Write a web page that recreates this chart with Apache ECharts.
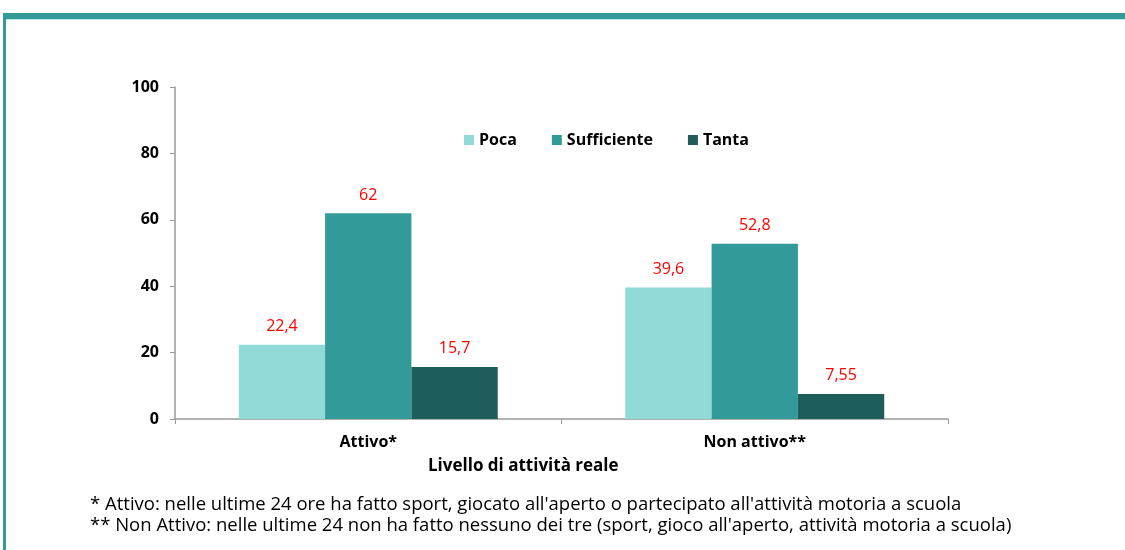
<!DOCTYPE html>
<html>
<head>
<meta charset="utf-8">
<script src="https://cdn.jsdelivr.net/npm/echarts@6/dist/echarts.min.js"></script>
<style>
  html, body { margin: 0; padding: 0; background: #fff; }
  #chart { width: 1125px; height: 550px; }
</style>
</head>
<body>
<div id="chart"></div>
<script>
// dati
var categories = ["Attivo*", "Non attivo**"];
var poca = [22.4, 39.6];
var sufficiente = [62, 52.8];
var tanta = [15.7, 7.55];
var yTicks = [0, 20, 40, 60, 80, 100];
var axisTitle = "Livello di attività reale";
var notes = [
  "* Attivo: nelle ultime 24 ore ha fatto sport, giocato all'aperto o partecipato all'attività motoria a scuola",
  "** Non Attivo: nelle ultime 24 non ha fatto nessuno dei tre (sport, gioco all'aperto, attività motoria a scuola)"
];

var chart = echarts.init(document.getElementById("chart"));

// etichette rosse con la virgola decimale
function lbl(p) {
  return String(p.value).replace(".", ",");
}

function serie(name, data, color) {
  return {
    name: name,
    type: "bar",
    data: data,
    barGap: "0%",
    barCategoryGap: "33%",
    itemStyle: { color: color },
    label: {
      show: true,
      position: "top",
      distance: 10,
      color: "#ff0000",
      fontSize: 16,
      fontFamily: "Open Sans",
      formatter: lbl
    }
  };
}

chart.setOption({
  animation: false,
  textStyle: { fontFamily: "Open Sans" },
  grid: { left: 175, right: 177, top: 87, bottom: 131 },
  legend: {
    top: 127,
    left: 459,
    itemWidth: 10,
    itemHeight: 10,
    itemGap: 35,
    icon: "rect",
    textStyle: { fontSize: 16, fontWeight: "bold", color: "#000" },
    data: ["Poca", "Sufficiente", "Tanta"]
  },
  xAxis: {
    type: "category",
    data: categories,
    axisLine: { lineStyle: { color: "#999", width: 1.5 } },
    axisTick: { show: true, length: 5, lineStyle: { color: "#999" } },
    axisLabel: { fontSize: 16, fontWeight: "bold", color: "#000", margin: 15 }
  },
  yAxis: {
    type: "value",
    min: yTicks[0],
    max: yTicks[yTicks.length - 1],
    interval: 20,
    splitLine: { show: false },
    axisLine: { show: true, lineStyle: { color: "#999", width: 1.5 } },
    axisTick: { show: true, length: 5, lineStyle: { color: "#999" } },
    axisLabel: { fontSize: 16, fontWeight: "bold", color: "#000", margin: 16 }
  },
  series: [
    serie("Poca", poca, "#92dad7"),
    serie("Sufficiente", sufficiente, "#329a98"),
    serie("Tanta", tanta, "#1f5d5b")
  ],
  graphic: [
    // cornice
    { type: "rect", shape: { x: 3, y: 13, width: 1122, height: 6 }, style: { fill: "#339a98" } },
    { type: "rect", shape: { x: 3, y: 13, width: 3, height: 537 }, style: { fill: "#339a98" } },
    { type: "rect", shape: { x: 6, y: 19, width: 1119, height: 1 }, style: { fill: "#bfe6e4" } },
    // titolo asse
    { type: "text", left: 428, top: 458, style: { text: axisTitle, font: "bold 17px 'Open Sans'", fill: "#000" } },
    // note
    { type: "text", left: 90, top: 495, style: { text: notes[0], font: "18.5px 'Open Sans'", fill: "#000" } },
    { type: "text", left: 90, top: 516, style: { text: notes[1], font: "18.5px 'Open Sans'", fill: "#000" } }
  ]
});
</script>
</body>
</html>
